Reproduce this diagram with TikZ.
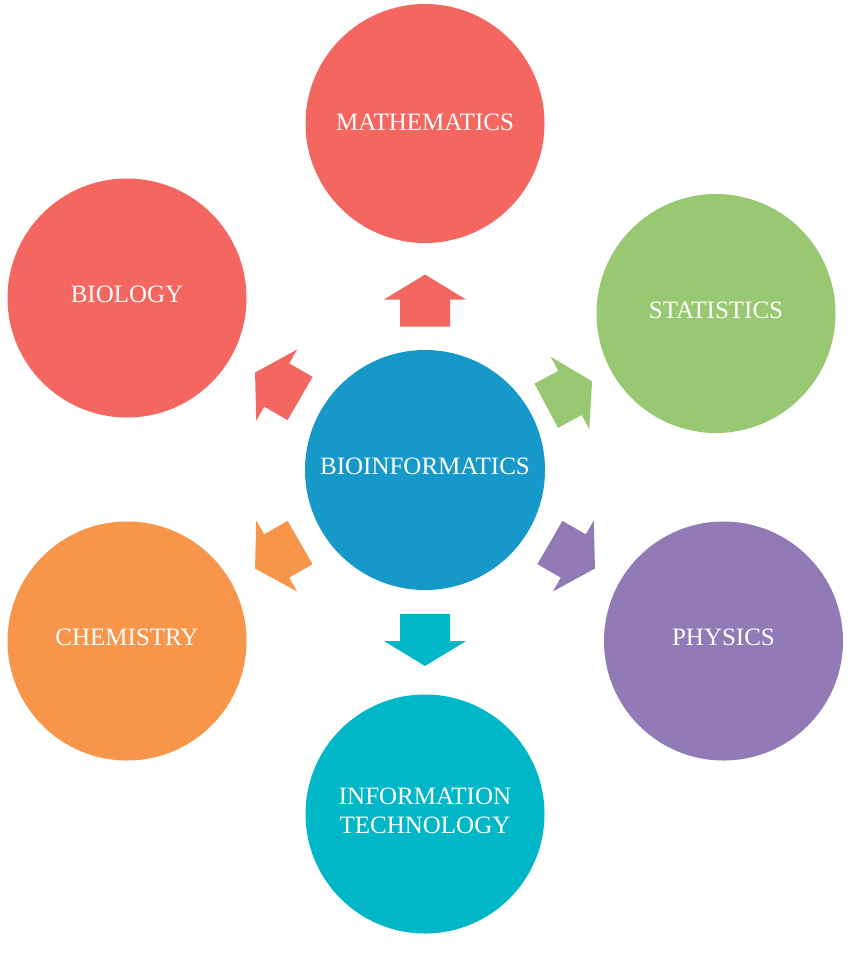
\documentclass[tikz,border=0pt]{standalone}
\usepackage{fontspec}
\setmainfont{Liberation Serif}
\definecolor{cred}{RGB}{244,103,96}
\definecolor{cgreen}{RGB}{152,201,114}
\definecolor{cblue}{RGB}{22,152,201}
\definecolor{corange}{RGB}{247,150,74}
\definecolor{cpurple}{RGB}{145,122,181}
\definecolor{cteal}{RGB}{0,183,199}
\tikzset{
  disc/.style={circle, fill=#1, draw=none, minimum size=239pt, inner sep=0pt},
  lbl/.style={text=white, font=\fontsize{25}{29}\selectfont, align=center, inner sep=0pt},
  pics/blockarrow/.style={code={\fill[#1] (-27,-25)--(0,-25)--(0,-41)--(25,0)--(0,41)--(0,25)--(-27,25)--cycle;}}
}
\begin{document}
\begin{tikzpicture}[x=1pt,y=-1pt]
\fill[white] (0,0) rectangle (850,974);
% circles
\node[disc=cred] (math) at (425,123.5) {};
\node[disc=cred] (bio) at (127,298) {};
\node[disc=cgreen] (stat) at (716,313.5) {};
\node[disc=cblue, minimum size=240pt] (bioinf) at (425,470) {};
\node[disc=corange] (chem) at (127,641) {};
\node[disc=cpurple] (phys) at (723.5,641) {};
\node[disc=cteal] (it) at (425,814) {};
% labels
\node[lbl] (mathT) at ([yshift=1pt]math.center) {MATHEMATICS};
\node[lbl] (bioT) at ([yshift=3.5pt]bio.center) {BIOLOGY};
\node[lbl] (statT) at ([yshift=3.5pt]stat.center) {STATISTICS};
\node[lbl] (bioinfT) at ([yshift=3.5pt]bioinf.center) {BIOINFORMATICS};
\node[lbl] (chemT) at ([yshift=3.5pt]chem.center) {CHEMISTRY};
\node[lbl] (physT) at ([yshift=3.5pt]phys.center) {PHYSICS};
\node[lbl] (itT) at ([yshift=3pt]it.center) {INFORMATION\\TECHNOLOGY};
% block arrows
\pic[rotate=90] (aup) at (425,299.5) {blockarrow=cred};
\pic[rotate=150] (abio) at (276.7,385) {blockarrow=cred};
\pic[rotate=28] (astat) at (570,393) {blockarrow=cgreen};
\pic[rotate=210] (achem) at (276.7,556) {blockarrow=corange};
\pic[rotate=330] (aphys) at (573.3,556) {blockarrow=cpurple};
\pic[rotate=270] (adown) at (425,641) {blockarrow=cteal};
\end{tikzpicture}
\end{document}
